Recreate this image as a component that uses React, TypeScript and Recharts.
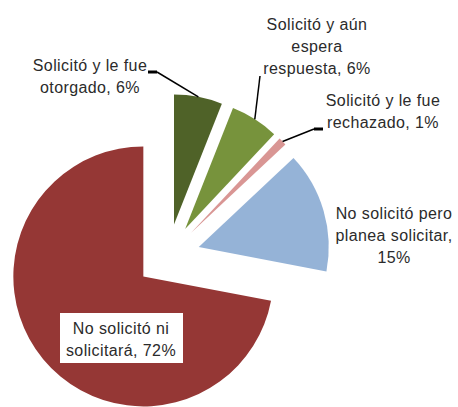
import { PieChart, Pie, Sector, Cell } from "recharts";

const categories = [
  "Solicitó y le fue otorgado",
  "Solicitó y aún espera respuesta",
  "Solicitó y le fue rechazado",
  "No solicitó pero planea solicitar",
  "No solicitó ni solicitará",
];
const shares = [6, 6, 1, 15, 72];
const colors = ["#4F6228", "#77933C", "#D99694", "#95B3D7", "#953735"];
const labelLines = [
  ["Solicitó y le fue", "otorgado, 6%"],
  ["Solicitó y aún", "espera", "respuesta, 6%"],
  ["Solicitó y le fue", "rechazado, 1%"],
  ["No solicitó pero", "planea solicitar,", "15%"],
  ["No solicitó ni", "solicitará, 72%"],
];

// label placement (moved by hand in the original), first baseline + leader start
const labelLayout = [
  { x: 90, y: 71, leader: [157, 72], tickDir: -1 },
  { x: 317, y: 30, leader: [260, 76], tickDir: 0 },
  { x: 383, y: 106, leader: [314, 129], tickDir: 1 },
  { x: 394, y: 219 },
  { x: 121, y: 334, box: true },
];

const RADIAN = Math.PI / 180;
const EXPLODE = 32;
const LINE_H = 22;

const data = categories.map((name, i) => ({ name, value: shares[i] }));

function offset(midAngle: number, d: number) {
  return [d * Math.cos(-midAngle * RADIAN), d * Math.sin(-midAngle * RADIAN)];
}

function ExplodedSector(props: any) {
  const { cx, cy, midAngle, innerRadius, outerRadius, startAngle, endAngle, fill } = props;
  const [dx, dy] = offset(midAngle, EXPLODE);
  return (
    <Sector
      cx={cx + dx}
      cy={cy + dy}
      innerRadius={innerRadius}
      outerRadius={outerRadius}
      startAngle={startAngle}
      endAngle={endAngle}
      fill={fill}
      stroke="none"
    />
  );
}

function SliceLabel(props: any) {
  const { cx, cy, midAngle, outerRadius, index } = props;
  const lay: any = labelLayout[index];
  const lines = labelLines[index];
  const [dx, dy] = offset(midAngle, EXPLODE);
  const [ex, ey] = offset(midAngle, outerRadius);
  const endX = cx + dx + ex;
  const endY = cy + dy + ey;
  return (
    <g>
      {lay.box && (
        <rect x={lay.x - 61} y={lay.y - 21} width={123} height={50} fill="#ffffff" />
      )}
      {lay.leader && (
        <g>
          <line x1={lay.leader[0]} y1={lay.leader[1]} x2={endX} y2={endY} stroke="#000" strokeWidth={1.5} />
          {lay.tickDir !== 0 && (
            <line
              x1={lay.leader[0]}
              y1={lay.leader[1]}
              x2={lay.leader[0] + lay.tickDir * 9}
              y2={lay.leader[1]}
              stroke="#000"
              strokeWidth={3}
            />
          )}
        </g>
      )}
      <text
        x={lay.x}
        y={lay.y}
        textAnchor="middle"
        fill="#2b2b2b"
        fontSize={16}
        letterSpacing={0.4}
        fontFamily="'Liberation Sans', Arial, sans-serif"
      >
        {lines.map((t, i) => (
          <tspan key={i} x={lay.x} dy={i === 0 ? 0 : LINE_H}>
            {t}
          </tspan>
        ))}
      </text>
    </g>
  );
}

export default function App() {
  return (
    <div style={{ position: "absolute", left: 0, top: 0, background: "#fff" }}>
      <PieChart width={458} height={407} margin={{ top: 0, right: 0, bottom: 0, left: 0 }}>
        <Pie
          data={data}
          dataKey="value"
          nameKey="name"
          cx={168}
          cy={256}
          outerRadius={130}
          startAngle={90}
          endAngle={-270}
          stroke="none"
          isAnimationActive={false}
          shape={ExplodedSector}
          activeShape={ExplodedSector}
          inactiveShape={ExplodedSector}
          label={SliceLabel}
          labelLine={false}
        >
          {data.map((d, i) => (
            <Cell key={d.name} fill={colors[i]} />
          ))}
        </Pie>
      </PieChart>
    </div>
  );
}
